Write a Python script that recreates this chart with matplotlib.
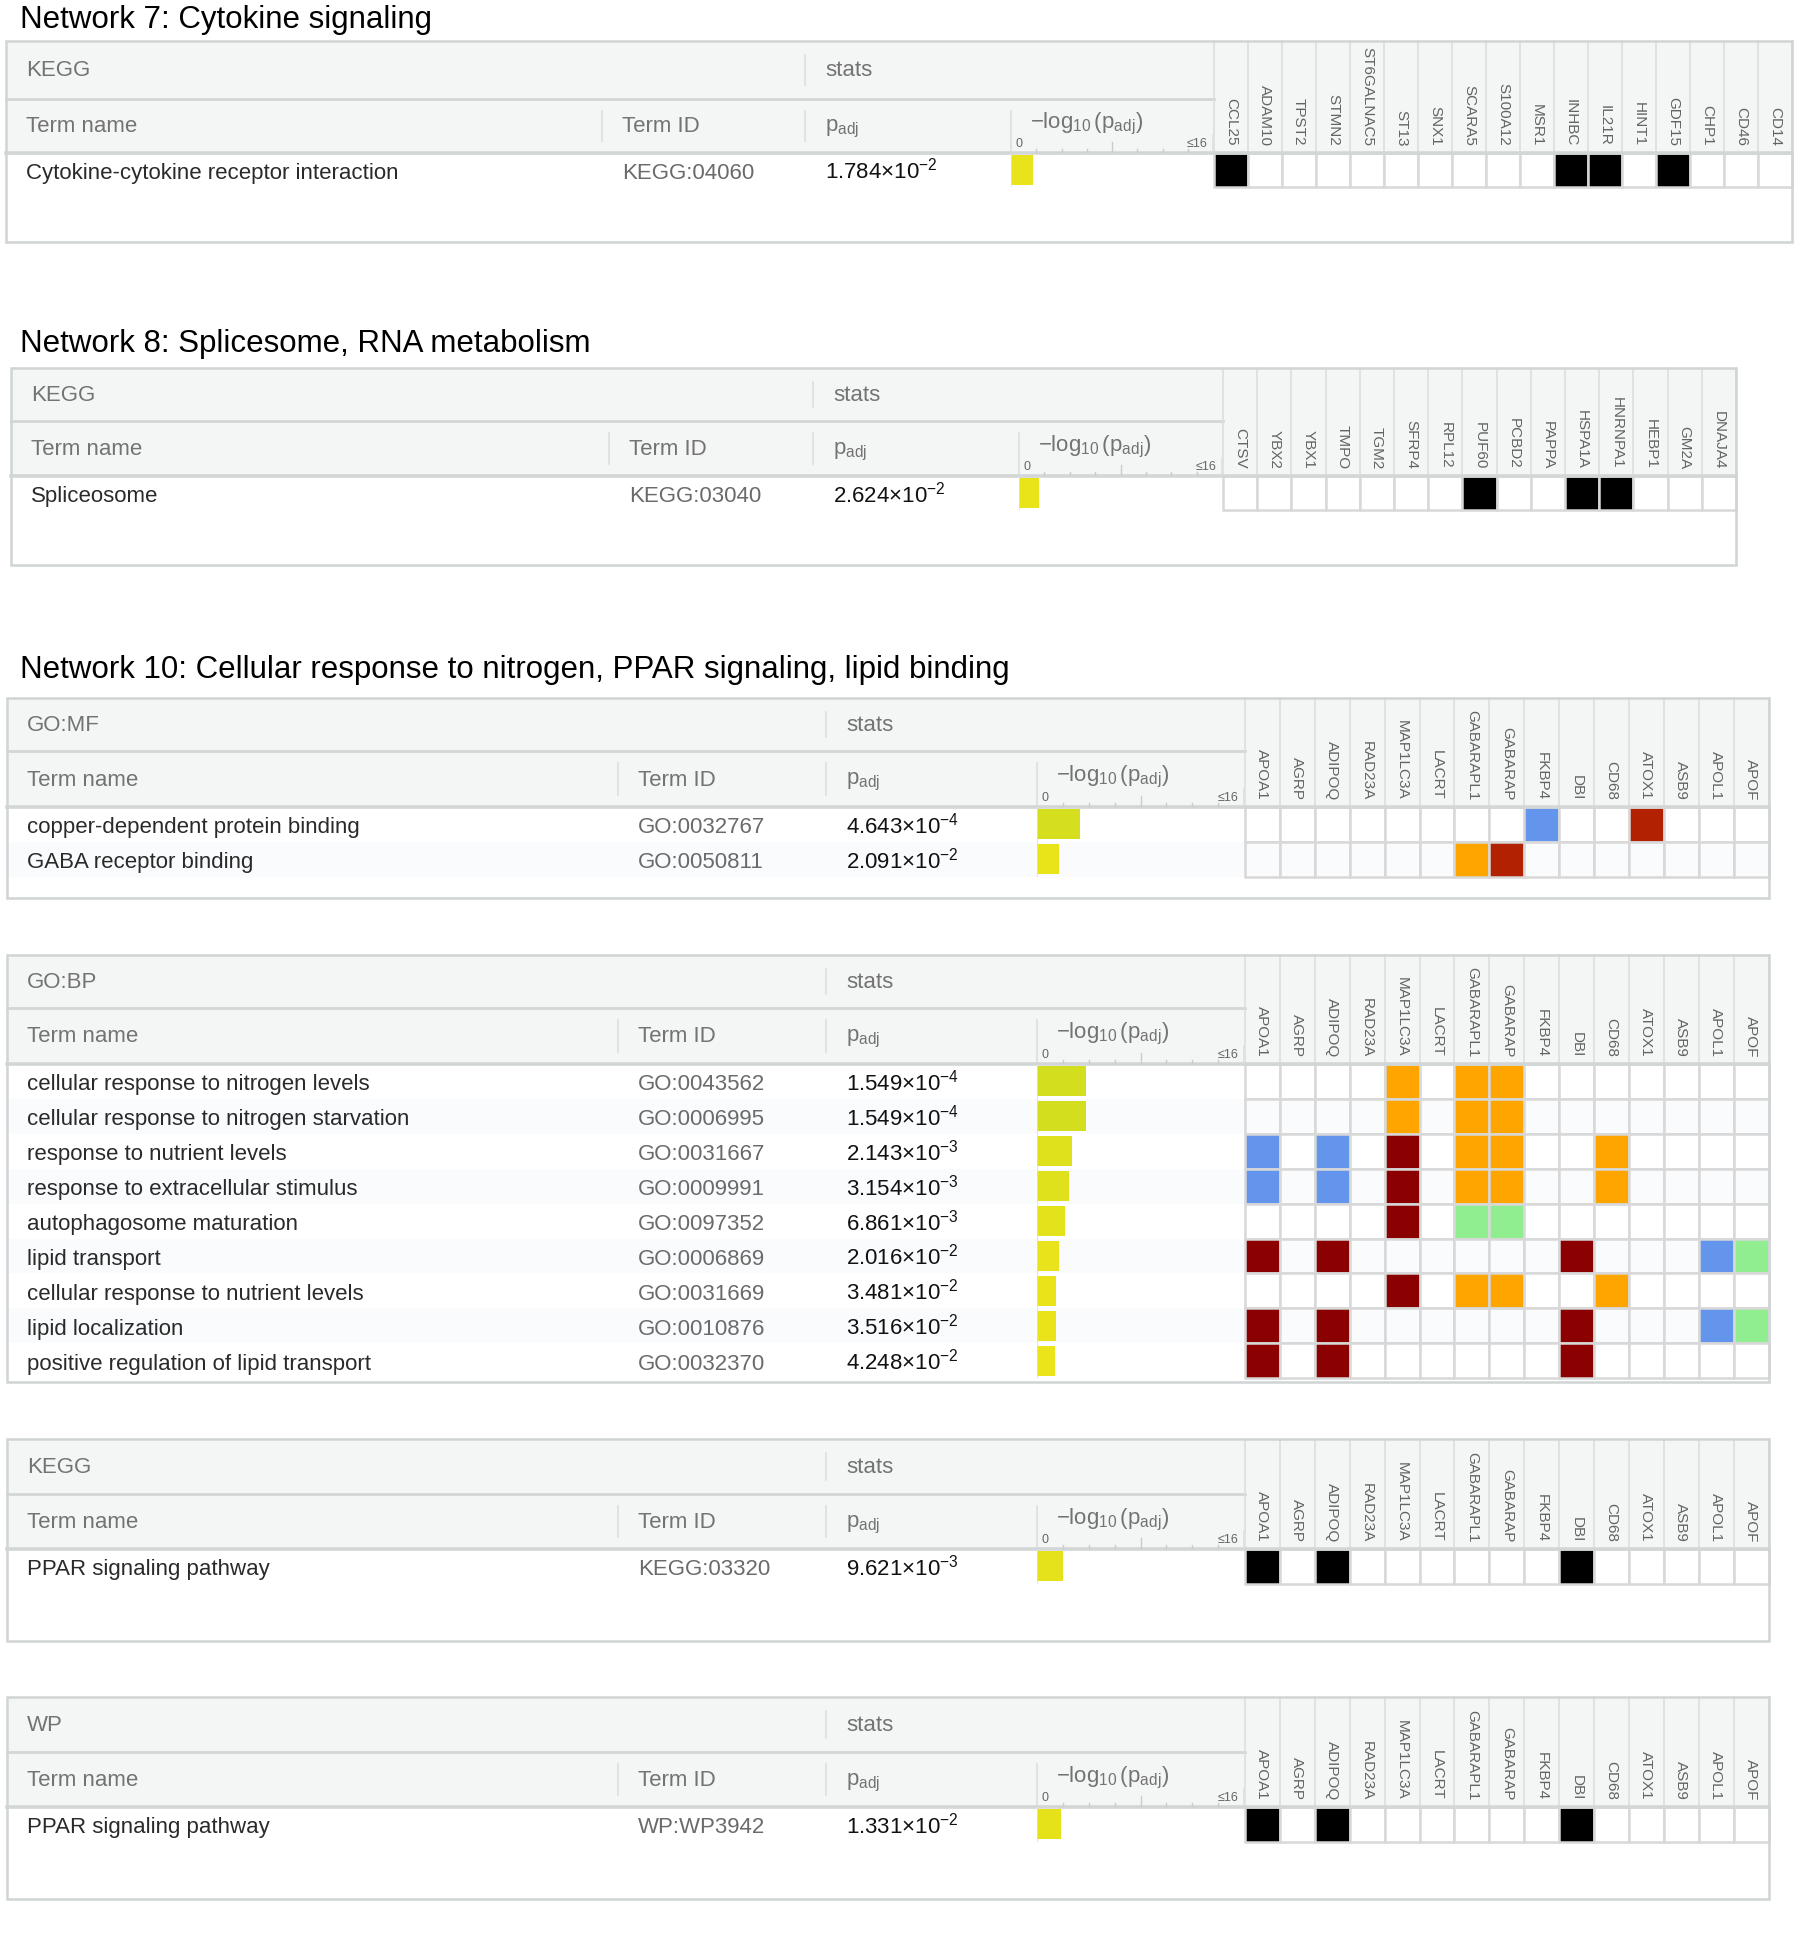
import numpy as np
import matplotlib
matplotlib.use('Agg')
import matplotlib.pyplot as plt
from matplotlib.patches import Rectangle
from matplotlib.colors import LinearSegmentedColormap

plt.rcParams['font.family'] = ['Liberation Sans', 'DejaVu Sans']
plt.rcParams['mathtext.fontset'] = 'custom'
plt.rcParams['mathtext.rm'] = 'Liberation Sans'
plt.rcParams['mathtext.it'] = 'Liberation Sans'
plt.rcParams['mathtext.bf'] = 'Liberation Sans:bold'

# ---------------- data ----------------
titles = ['Network 7: Cytokine signaling',
          'Network 8: Splicesome, RNA metabolism',
          'Network 10: Cellular response to nitrogen, PPAR signaling, lipid binding']

net7_genes = ['CCL25', 'ADAM10', 'TPST2', 'STMN2', 'ST6GALNAC5', 'ST13', 'SNX1', 'SCARA5',
              'S100A12', 'MSR1', 'INHBC', 'IL21R', 'HINT1', 'GDF15', 'CHP1', 'CD46', 'CD14']
net7_kegg_names = ['Cytokine-cytokine receptor interaction']
net7_kegg_ids = ['KEGG:04060']
net7_kegg_padj = [1.784e-2]
net7_kegg_hits = ['k.........kk.k...']

net8_genes = ['CTSV', 'YBX2', 'YBX1', 'TMPO', 'TGM2', 'SFRP4', 'RPL12', 'PUF60', 'PCBD2',
              'PAPPA', 'HSPA1A', 'HNRNPA1', 'HEBP1', 'GM2A', 'DNAJA4']
net8_kegg_names = ['Spliceosome']
net8_kegg_ids = ['KEGG:03040']
net8_kegg_padj = [2.624e-2]
net8_kegg_hits = ['.......k..kk...']

net10_genes = ['APOA1', 'AGRP', 'ADIPOQ', 'RAD23A', 'MAP1LC3A', 'LACRT', 'GABARAPL1', 'GABARAP',
               'FKBP4', 'DBI', 'CD68', 'ATOX1', 'ASB9', 'APOL1', 'APOF']
mf_names = ['copper-dependent protein binding', 'GABA receptor binding']
mf_ids = ['GO:0032767', 'GO:0050811']
mf_padj = [4.643e-4, 2.091e-2]
mf_hits = ['........b..R...',
           '......oR.......']

bp_names = ['cellular response to nitrogen levels', 'cellular response to nitrogen starvation',
            'response to nutrient levels', 'response to extracellular stimulus',
            'autophagosome maturation', 'lipid transport', 'cellular response to nutrient levels',
            'lipid localization', 'positive regulation of lipid transport']
bp_ids = ['GO:0043562', 'GO:0006995', 'GO:0031667', 'GO:0009991', 'GO:0097352',
          'GO:0006869', 'GO:0031669', 'GO:0010876', 'GO:0032370']
bp_padj = [1.549e-4, 1.549e-4, 2.143e-3, 3.154e-3, 6.861e-3, 2.016e-2, 3.481e-2, 3.516e-2, 4.248e-2]
bp_hits = ['....o.oo.......',
           '....o.oo.......',
           'b.b.r.oo..o....',
           'b.b.r.oo..o....',
           '....r.gg.......',
           'r.r......r...bg',
           '....r.oo..o....',
           'r.r......r...bg',
           'r.r......r.....']

kegg10_names = ['PPAR signaling pathway']
kegg10_ids = ['KEGG:03320']
kegg10_padj = [9.621e-3]
kegg10_hits = ['k.k......k.....']

wp_names = ['PPAR signaling pathway']
wp_ids = ['WP:WP3942']
wp_padj = [1.331e-2]
wp_hits = ['k.k......k.....']

HIT_COLORS = {'k': '#000000', 'b': '#6495ed', 'r': '#8b0000', 'R': '#b22200',
              'o': '#ffa500', 'g': '#90ee90'}

# ---------------- style ----------------
W, H = 1800, 1937
HEAD_BG = '#f4f5f5'
LINE = '#d2d6d6'
SEP = '#dcdfdf'
GRID = '#d8d8d8'
STRIPE = '#f9fbfc'
TXT_HEAD = '#737373'
bar_cmap = LinearSegmentedColormap.from_list(
    'padj', [(0, '#f4e619'), (0.1, '#e9e31a'), (0.25, '#cfde1e'), (0.6, '#8cc63f'), (1, '#2e8b3c')])

fig = plt.figure(figsize=(W / 100, H / 100), dpi=100)
ax = fig.add_axes([0, 0, 1, 1])
ax.set_xlim(0, W)
ax.set_ylim(H, 0)
ax.axis('off')


def fmt_p(p):
    e = int(np.floor(np.log10(p)))
    m = p / 10 ** e
    return rf'${m:.3f}{{\times}}10^{{{e}}}$'


def sub_axes(x0, y0, x1, y1):
    a = fig.add_axes([x0 / W, 1 - y1 / H, (x1 - x0) / W, (y1 - y0) / H])
    a.axis('off')
    a.patch.set_alpha(0)
    return a


def draw_table(lay, source, genes, names, ids, padj, hits):
    L, top, b1, b2, bot = lay['left'], lay['top'], lay['b1'], lay['b2'], lay['bottom']
    s1, s2, s3, gx, cw = lay['s1'], lay['s2'], lay['s3'], lay['gx'], lay['cw']
    rh = cw
    n = len(names)
    ng = len(genes)
    R = gx + cw * ng

    # backgrounds
    ax.add_patch(Rectangle((L, top), R - L, bot - top, fc='white', ec='none', zorder=0))
    ax.add_patch(Rectangle((L, top), R - L, b2 - top, fc=HEAD_BG, ec='none', zorder=0))
    for i in range(n):
        if i % 2 == 1:
            ax.add_patch(Rectangle((L, b2 + i * rh), gx - L, rh, fc=STRIPE, ec='none', zorder=0))

    # header lines and separators
    ax.plot([L, gx], [b1, b1], color=LINE, lw=2.0, zorder=2)
    ax.plot([s2, s2], [top + 14, b1 - 14], color=SEP, lw=1.2, zorder=2)
    for x in (s1, s2):
        ax.plot([x, x], [b1 + 12, b2 - 12], color=SEP, lw=1.2, zorder=2)
    ax.plot([s3 + 3, s3 + 3], [b1 + 12, b2], color=SEP, lw=1.2, zorder=2)
    for j in range(ng + 1):
        ax.plot([gx + j * cw] * 2, [top, b2], color=SEP, lw=1.2, zorder=2)

    yh1 = (top + b1) / 2
    yh2 = (b1 + b2) / 2
    ax.text(L + 20, yh1 + 1, source, fontsize=16, color=TXT_HEAD, va='center')
    ax.text(s2 + 20, yh1 + 1, 'stats', fontsize=16, color=TXT_HEAD, va='center')
    ax.text(L + 20, yh2 + 1, 'Term name', fontsize=16, color=TXT_HEAD, va='center')
    ax.text(s1 + 20, yh2 + 1, 'Term ID', fontsize=16, color=TXT_HEAD, va='center')
    ax.text(s2 + 20, yh2 + 3, r'$p_{adj}$', fontsize=16, color=TXT_HEAD, va='center')
    ax.text(s3 + 22, yh2 - 2, r'$-\log_{10}(p_{adj})$', fontsize=16, color=TXT_HEAD, va='center')

    # -log10 scale ticks
    tax = sub_axes(s3 + 3, b1, gx - 1, b2)
    tax.set_xlim(0, 16)
    tax.set_ylim(0, b2 - b1)
    for v in range(2, 16, 2):
        tax.plot([v, v], [0, 11 if v == 8 else 4], color='#c8cccc', lw=1.0)
    tax.plot([16, 16], [0, 18], color=SEP, lw=1.2)
    tax.annotate('0', xy=(0, 0), xytext=(3, 2), textcoords='offset points',
                 fontsize=9, color='#666666', ha='left', va='bottom')
    tax.annotate('≤16', xy=(16, 0), xytext=(-4, 2), textcoords='offset points',
                 fontsize=9, color='#666666', ha='right', va='bottom')

    # gene labels
    for j, g in enumerate(genes):
        ax.text(gx + (j + 0.5) * cw, b2 - 7, g, rotation=-90, ha='center', va='bottom',
                fontsize=11, color='#636363', zorder=3)

    # rows
    for i in range(n):
        yb = b2 + (i + 0.5) * rh + 9
        ax.text(L + 20, yb, names[i], fontsize=16, color='#2a2a2a', va='baseline')
        ax.text(s1 + 20, yb, ids[i], fontsize=16, color='#6a6a6a', va='baseline')
        ax.text(s2 + 20, yb, fmt_p(padj[i]), fontsize=16, color='#111111', va='baseline')
        for j, code in enumerate(hits[i]):
            bg = 'white' if i % 2 == 0 else STRIPE
            fc = HIT_COLORS.get(code, bg)
            ax.add_patch(Rectangle((gx + j * cw, b2 + i * rh), cw, rh, fc=fc, ec=GRID,
                                   lw=1.8, zorder=1))

    # bars
    vals = -np.log10(np.array(padj))
    bax = sub_axes(s3 + 3, b2, gx - 1, b2 + n * rh)
    bax.set_xlim(0, 16)
    bax.set_ylim(n, 0)
    bax.barh(np.arange(n) + 0.5, vals, height=0.86, color=bar_cmap(vals / 16))
    bax.axvline(0, color=SEP, lw=1.2)

    # heavy line under header and outer border
    ax.plot([L, R], [b2, b2], color=LINE, lw=2.6, zorder=4)
    ax.add_patch(Rectangle((L, top), R - L, bot - top, fc='none', ec='#d0d4d4', lw=1.8, zorder=5))


# ---------------- layout ----------------
lay7 = dict(left=6, top=41, b1=99, b2=153, bottom=242, s1=602, s2=805, s3=1008, gx=1214, cw=34.0)
lay8 = dict(left=11, top=368, b1=421, b2=476, bottom=565, s1=609, s2=813, s3=1016, gx=1223, cw=34.2)
net10_x = dict(left=7, s1=618, s2=826, s3=1034, gx=1245, cw=34.9)
lay_mf = dict(net10_x, top=698, b1=751, b2=807, bottom=898)
lay_bp = dict(net10_x, top=955, b1=1008, b2=1064, bottom=1382)
lay_kegg = dict(net10_x, top=1439, b1=1494, b2=1549, bottom=1641)
lay_wp = dict(net10_x, top=1697, b1=1752, b2=1807, bottom=1899)

for t, yb in zip(titles, [28, 352, 678]):
    ax.text(20, yb, t, fontsize=22.5, color='black', va='baseline')

draw_table(lay7, 'KEGG', net7_genes, net7_kegg_names, net7_kegg_ids, net7_kegg_padj, net7_kegg_hits)
draw_table(lay8, 'KEGG', net8_genes, net8_kegg_names, net8_kegg_ids, net8_kegg_padj, net8_kegg_hits)
draw_table(lay_mf, 'GO:MF', net10_genes, mf_names, mf_ids, mf_padj, mf_hits)
draw_table(lay_bp, 'GO:BP', net10_genes, bp_names, bp_ids, bp_padj, bp_hits)
draw_table(lay_kegg, 'KEGG', net10_genes, kegg10_names, kegg10_ids, kegg10_padj, kegg10_hits)
draw_table(lay_wp, 'WP', net10_genes, wp_names, wp_ids, wp_padj, wp_hits)

fig.savefig('out.png', dpi=100, facecolor='white')
